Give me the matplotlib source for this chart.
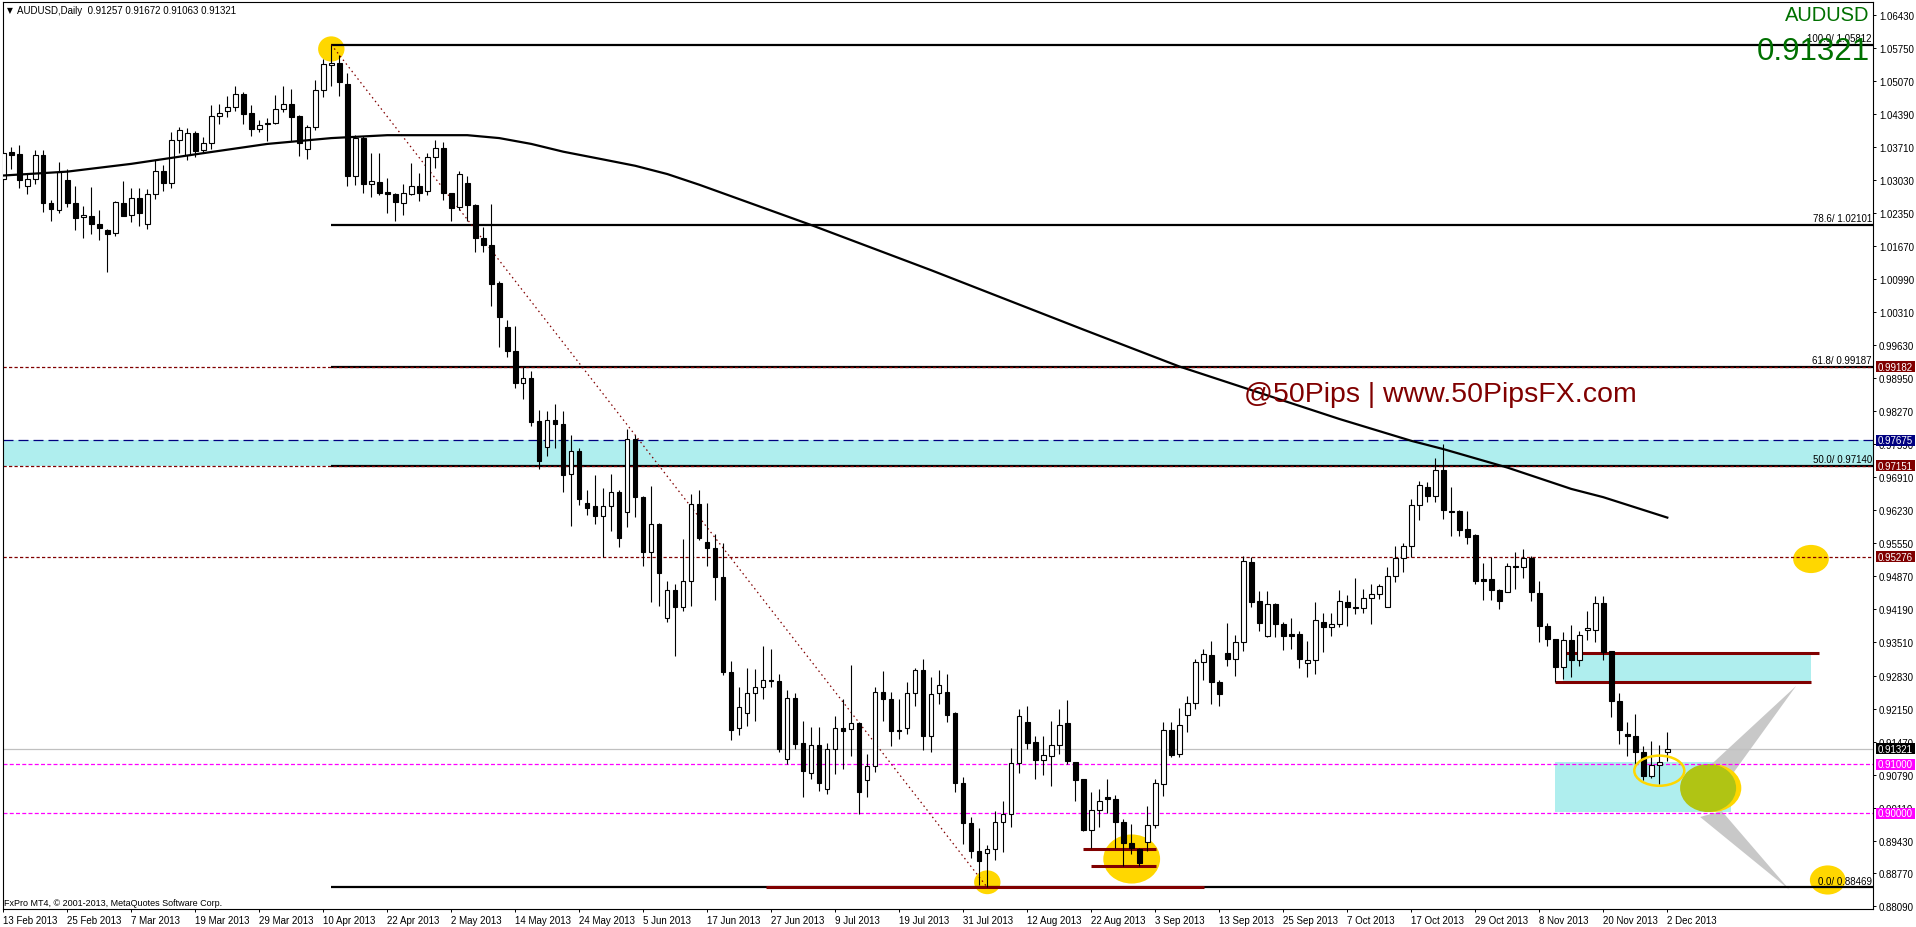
import matplotlib
matplotlib.use("Agg")
import matplotlib.pyplot as plt
from matplotlib.patches import Ellipse, Rectangle, Polygon
from matplotlib.transforms import blended_transform_factory

plt.rcParams['font.family'] = ['Liberation Sans', 'DejaVu Sans']

# ---- data (AUDUSD daily, bar 0 = 13 Feb 2013) ----
header = "AUDUSD,Daily  0.91257 0.91672 0.91063 0.91321"
last_price = 0.91321

date_labels = ["13 Feb 2013", "25 Feb 2013", "7 Mar 2013", "19 Mar 2013", "29 Mar 2013",
               "10 Apr 2013", "22 Apr 2013", "2 May 2013", "14 May 2013", "24 May 2013",
               "5 Jun 2013", "17 Jun 2013", "27 Jun 2013", "9 Jul 2013", "19 Jul 2013",
               "31 Jul 2013", "12 Aug 2013", "22 Aug 2013", "3 Sep 2013", "13 Sep 2013",
               "25 Sep 2013", "7 Oct 2013", "17 Oct 2013", "29 Oct 2013", "8 Nov 2013",
               "20 Nov 2013", "2 Dec 2013"]

opens = [
    1.0304, 1.0360, 1.0356, 1.0290, 1.0304, 1.0354, 1.0256, 1.0242, 1.0302, 1.0256,
    1.0226, 1.0228, 1.0212, 1.0200, 1.0194, 1.0256, 1.0230, 1.0265, 1.0212, 1.0273,
    1.0321, 1.0296, 1.0385, 1.0354, 1.0399, 1.0364, 1.0378, 1.0434, 1.0444, 1.0454,
    1.0479, 1.0440, 1.0407, 1.0417, 1.0421, 1.0448, 1.0459, 1.0435, 1.0366, 1.0411,
    1.0487, 1.0540, 1.0544, 1.0500, 1.0310, 1.0389, 1.0295, 1.0298, 1.0278, 1.0274,
    1.0256, 1.0274, 1.0291, 1.0280, 1.0350, 1.0369, 1.0275, 1.0247, 1.0296, 1.0251,
    1.0183, 1.0169, 1.0091, 1.0000, 0.9950, 0.9886, 0.9895, 0.9806, 0.9753, 0.9808,
    0.9800, 0.9697, 0.9746, 0.9639, 0.9631, 0.9612, 0.9631, 0.9660, 0.9619, 0.9769,
    0.9650, 0.9538, 0.9594, 0.9401, 0.9460, 0.9423, 0.9478, 0.9635, 0.9558, 0.9545,
    0.9485, 0.9290, 0.9175, 0.9206, 0.9246, 0.9259, 0.9274, 0.9272, 0.9111, 0.9237,
    0.9144, 0.9083, 0.9141, 0.9049, 0.9132, 0.9174, 0.9172, 0.9185, 0.9067, 0.9096,
    0.9250, 0.9234, 0.9171, 0.9174, 0.9246, 0.9294, 0.9159, 0.9247, 0.9250, 0.9205,
    0.9061, 0.8980, 0.8922, 0.8918, 0.8927, 0.8982, 0.8997, 0.9102, 0.9187, 0.9147,
    0.9110, 0.9118, 0.9139, 0.9185, 0.9106, 0.9070, 0.8966, 0.9006, 0.9033, 0.9028,
    0.8981, 0.8938, 0.8926, 0.8941, 0.8975, 0.9059, 0.9171, 0.9121, 0.9201, 0.9226,
    0.9310, 0.9325, 0.9269, 0.9329, 0.9316, 0.9353, 0.9516, 0.9436, 0.9365, 0.9430,
    0.9389, 0.9368, 0.9368, 0.9308, 0.9314, 0.9394, 0.9382, 0.9390, 0.9434, 0.9425,
    0.9421, 0.9442, 0.9450, 0.9423, 0.9487, 0.9524, 0.9549, 0.9633, 0.9670, 0.9652,
    0.9706, 0.9621, 0.9621, 0.9585, 0.9572, 0.9481, 0.9481, 0.9458, 0.9454, 0.9508,
    0.9506, 0.9524, 0.9453, 0.9384, 0.9358, 0.9300, 0.9357, 0.9314, 0.9377, 0.9377,
    0.9432, 0.9333, 0.9231, 0.9163, 0.9159, 0.9125, 0.9077, 0.9098, 0.91257]
highs = [
    1.0360, 1.0370, 1.0375, 1.0315, 1.0365, 1.0365, 1.0262, 1.0339, 1.0325, 1.0290,
    1.0249, 1.0288, 1.0240, 1.0202, 1.0260, 1.0300, 1.0287, 1.0286, 1.0284, 1.0344,
    1.0334, 1.0402, 1.0411, 1.0410, 1.0403, 1.0392, 1.0457, 1.0460, 1.0476, 1.0496,
    1.0483, 1.0458, 1.0427, 1.0430, 1.0478, 1.0496, 1.0490, 1.0437, 1.0416, 1.0508,
    1.0552, 1.05812, 1.0559, 1.0523, 1.0396, 1.0393, 1.0358, 1.0358, 1.0307, 1.0276,
    1.0295, 1.0338, 1.0317, 1.0358, 1.0385, 1.0380, 1.0277, 1.0321, 1.0312, 1.0253,
    1.0207, 1.0253, 1.0094, 1.0015, 1.0002, 0.9917, 0.9910, 0.9829, 0.9827, 0.9842,
    0.9827, 0.9777, 0.9752, 0.9665, 0.9696, 0.9669, 0.9698, 0.9665, 0.9790, 0.9777,
    0.9653, 0.9672, 0.9596, 0.9478, 0.9471, 0.9564, 0.9657, 0.9665, 0.9639, 0.9574,
    0.9555, 0.9312, 0.9259, 0.9298, 0.9297, 0.9343, 0.9338, 0.9286, 0.9253, 0.9248,
    0.9190, 0.9178, 0.9178, 0.9144, 0.9200, 0.9235, 0.9305, 0.9188, 0.9121, 0.9259,
    0.9292, 0.9250, 0.9235, 0.9269, 0.9298, 0.9317, 0.9279, 0.9294, 0.9286, 0.9207,
    0.9075, 0.8991, 0.8969, 0.8934, 0.9004, 0.9025, 0.9133, 0.9214, 0.9220, 0.9158,
    0.9158, 0.9189, 0.9214, 0.9233, 0.9106, 0.9071, 0.9043, 0.9049, 0.9070, 0.9037,
    0.8988, 0.8977, 0.8929, 0.9014, 0.9071, 0.9188, 0.9187, 0.9216, 0.9240, 0.9318,
    0.9338, 0.9354, 0.9273, 0.9391, 0.9366, 0.9528, 0.9526, 0.9456, 0.9456, 0.9432,
    0.9394, 0.9401, 0.9375, 0.9355, 0.9434, 0.9412, 0.9412, 0.9459, 0.9449, 0.9483,
    0.9462, 0.9471, 0.9471, 0.9506, 0.9549, 0.9556, 0.9646, 0.9684, 0.9681, 0.9730,
    0.9759, 0.9670, 0.9624, 0.9622, 0.9574, 0.9515, 0.9526, 0.9461, 0.9514, 0.9537,
    0.9543, 0.9528, 0.9478, 0.9391, 0.9358, 0.9372, 0.9387, 0.9374, 0.9416, 0.9447,
    0.9447, 0.9333, 0.9248, 0.9187, 0.9204, 0.9137, 0.9148, 0.9139, 0.91672]
lows = [
    1.0302, 1.0325, 1.0286, 1.0273, 1.0295, 1.0236, 1.0219, 1.0234, 1.0248, 1.0199,
    1.0183, 1.0192, 1.0180, 1.0114, 1.0187, 1.0228, 1.0217, 1.0209, 1.0202, 1.0264,
    1.0281, 1.0286, 1.0358, 1.0343, 1.0350, 1.0360, 1.0367, 1.0418, 1.0432, 1.0444,
    1.0419, 1.0393, 1.0401, 1.0384, 1.0417, 1.0443, 1.0382, 1.0353, 1.0346, 1.0405,
    1.0473, 1.0497, 1.0476, 1.0290, 1.0293, 1.0276, 1.0267, 1.0272, 1.0234, 1.0219,
    1.0231, 1.0271, 1.0260, 1.0271, 1.0327, 1.0262, 1.0219, 1.0242, 1.0219, 1.0154,
    1.0154, 1.0044, 0.9960, 0.9939, 0.9875, 0.9852, 0.9797, 0.9709, 0.9735, 0.9751,
    0.9660, 0.9591, 0.9633, 0.9613, 0.9595, 0.9526, 0.9581, 0.9547, 0.9589, 0.9609,
    0.9509, 0.9434, 0.9427, 0.9393, 0.9324, 0.9415, 0.9427, 0.9562, 0.9508, 0.9439,
    0.9284, 0.9150, 0.9160, 0.9180, 0.9190, 0.9235, 0.9260, 0.9125, 0.9100, 0.9132,
    0.9034, 0.9071, 0.9046, 0.9039, 0.9080, 0.9091, 0.9118, 0.8998, 0.9034, 0.9085,
    0.9190, 0.9137, 0.9152, 0.9163, 0.9221, 0.9130, 0.9126, 0.9224, 0.9187, 0.9043,
    0.8936, 0.8907, 0.8851, 0.88469, 0.8904, 0.8919, 0.8971, 0.9082, 0.9132, 0.9070,
    0.9078, 0.9056, 0.9121, 0.9101, 0.9025, 0.8964, 0.8929, 0.8971, 0.9001, 0.8929,
    0.8892, 0.8916, 0.8892, 0.8922, 0.8970, 0.9036, 0.9115, 0.9115, 0.9166, 0.9214,
    0.9274, 0.9224, 0.9221, 0.9303, 0.9283, 0.9334, 0.9425, 0.9375, 0.9362, 0.9362,
    0.9336, 0.9337, 0.9298, 0.9279, 0.9286, 0.9332, 0.9364, 0.9382, 0.9385, 0.9410,
    0.9412, 0.9388, 0.9440, 0.9423, 0.9476, 0.9497, 0.9526, 0.9604, 0.9641, 0.9641,
    0.9606, 0.9571, 0.9571, 0.9554, 0.9471, 0.9438, 0.9438, 0.9420, 0.9454, 0.9461,
    0.9483, 0.9437, 0.9351, 0.9343, 0.9269, 0.9276, 0.9279, 0.9303, 0.9357, 0.9351,
    0.9314, 0.9197, 0.9142, 0.9118, 0.9101, 0.9067, 0.9072, 0.9060, 0.91063]
closes = [
    1.0358, 1.0355, 1.0302, 1.0304, 1.0354, 1.0255, 1.0244, 1.0319, 1.0255, 1.0225,
    1.0231, 1.0213, 1.0203, 1.0192, 1.0257, 1.0229, 1.0265, 1.0234, 1.0273, 1.0321,
    1.0296, 1.0385, 1.0405, 1.0399, 1.0363, 1.0378, 1.0434, 1.0441, 1.0452, 1.0479,
    1.0439, 1.0407, 1.0415, 1.0421, 1.0448, 1.0459, 1.0433, 1.0378, 1.0411, 1.0487,
    1.0541, 1.0544, 1.0504, 1.0310, 1.0389, 1.0294, 1.0300, 1.0275, 1.0273, 1.0257,
    1.0275, 1.0290, 1.0275, 1.0350, 1.0369, 1.0275, 1.0246, 1.0315, 1.0251, 1.0183,
    1.0168, 1.0089, 1.0020, 0.9950, 0.9886, 0.9895, 0.9805, 0.9725, 0.9808, 0.9800,
    0.9696, 0.9746, 0.9646, 0.9628, 0.9612, 0.9631, 0.9660, 0.9567, 0.9769, 0.9650,
    0.9538, 0.9594, 0.9493, 0.9460, 0.9423, 0.9478, 0.9635, 0.9567, 0.9545, 0.9485,
    0.9291, 0.9170, 0.9218, 0.9246, 0.9259, 0.9274, 0.9272, 0.9132, 0.9236, 0.9143,
    0.9087, 0.9141, 0.9061, 0.9132, 0.9174, 0.9168, 0.9185, 0.9044, 0.9096, 0.9250,
    0.9234, 0.9168, 0.9168, 0.9248, 0.9294, 0.9159, 0.9244, 0.9263, 0.9202, 0.9061,
    0.8979, 0.8922, 0.8902, 0.8927, 0.8981, 0.8997, 0.9102, 0.9200, 0.9145, 0.9110,
    0.9119, 0.9139, 0.9182, 0.9108, 0.9069, 0.8965, 0.9006, 0.9025, 0.9028, 0.8982,
    0.8938, 0.8929, 0.8898, 0.8975, 0.9061, 0.9171, 0.9120, 0.9182, 0.9226, 0.9310,
    0.9327, 0.9269, 0.9244, 0.9316, 0.9353, 0.9518, 0.9435, 0.9392, 0.9430, 0.9388,
    0.9365, 0.9365, 0.9316, 0.9314, 0.9397, 0.9382, 0.9390, 0.9436, 0.9425, 0.9421,
    0.9442, 0.9450, 0.9467, 0.9487, 0.9524, 0.9549, 0.9633, 0.9676, 0.9652, 0.9706,
    0.9624, 0.9619, 0.9583, 0.9569, 0.9478, 0.9478, 0.9458, 0.9437, 0.9508, 0.9506,
    0.9524, 0.9454, 0.9384, 0.9358, 0.9300, 0.9357, 0.9314, 0.9367, 0.9380, 0.9432,
    0.9331, 0.9231, 0.9170, 0.9159, 0.9125, 0.9077, 0.9098, 0.9106, 0.91321]

# moving average, sampled along its path (bar, price)
ma_bars = [0, 8, 16, 25, 33, 41, 48, 58, 62, 66, 70, 75, 79, 83, 87, 101, 116, 135, 147,
           167, 176, 180, 188, 196, 200, 208]
ma_vals = [1.0312, 1.0320, 1.0336, 1.0358, 1.0377, 1.0389, 1.0395, 1.0395, 1.0389, 1.0377,
           1.0361, 1.0345, 1.0332, 1.0315, 1.0293, 1.0210, 1.0117, 0.9995, 0.9919,
           0.9811, 0.9766, 0.9749, 0.9711, 0.9667, 0.9650, 0.9608]

# Fibonacci retracement: 11 Apr high -> 5 Aug low
fib_from, fib_to = 41, 123
fib_names = ["100.0", "78.6", "61.8", "50.0", "0.0"]
fib_prices = [1.05812, 1.02101, 0.99187, 0.97140, 0.88469]

ytick_vals = [1.06430, 1.05750, 1.05070, 1.04390, 1.03710, 1.03030, 1.02350, 1.01670,
              1.00990, 1.00310, 0.99630, 0.98950, 0.98270, 0.97590, 0.96910, 0.96230,
              0.95550, 0.94870, 0.94190, 0.93510, 0.92830, 0.92150, 0.91470, 0.90790,
              0.90110, 0.89430, 0.88770, 0.88090]

# price tags on the right scale
tag_prices = [0.99182, 0.97675, 0.97151, 0.95276, 0.91321, 0.91000, 0.90000]
tag_colors = ["#800000", "#000080", "#800000", "#800000", "#000000", "#FF00FF", "#FF00FF"]

# zones (bar from, bar to, price low, price high)
zone_top = (-1, 240, 0.97151, 0.97675)
zone_a = (195.0, 225.9, 0.92691, 0.93294)
zone_b = (194.0, 215.9, 0.90016, 0.91045)

# dark red support/resistance segments (bar from, bar to, price)
segments = [(95.3, 150.1, 0.88469), (135.0, 144.1, 0.8926), (136.0, 144.1, 0.8892),
            (195.0, 227.0, 0.9329), (194.0, 226.0, 0.92691)]

# yellow markers (bar, price, width in bars, height in price)
spots = [(41.0, 1.05724, 3.3, 0.0052), (123.0, 0.88575, 3.3, 0.0049),
         (141.05, 0.89054, 7.1, 0.0101), (225.96, 0.95228, 4.46, 0.0058),
         (228.05, 0.88622, 4.46, 0.0060)]
green_spot = (213.1, 0.90515, 7.0, 0.0099)
ring = (207.0, 0.90871, 6.25, 0.0062)

wedge_up = [(224.1, 0.92615), (211.8, 0.90742), (214.8, 0.90495)]
wedge_dn = [(223.3, 0.88416), (212.1, 0.89919), (214.8, 0.90042)]

# ---- figure ----
W, H = 1916, 928
fig = plt.figure(figsize=(W / 100, H / 100), dpi=100)
fig.patch.set_facecolor("white")
ax = fig.add_axes([2.7 / W, 18 / H, 1870.6 / W, 907.3 / H])
ax.set_xlim(-0.075, 233.75)
ax.set_ylim(0.88025, 1.06697)

n = len(closes)
xs = list(range(n))
trans_right = blended_transform_factory(ax.transAxes, ax.transData)

# zones
for x0, x1, lo, hi in [zone_top, zone_a, zone_b]:
    ax.add_patch(Rectangle((x0, lo), x1 - x0, hi - lo, facecolor="#AFEEEE",
                           edgecolor="none", zorder=0.5))

for bx, py, w, h in spots:
    ax.add_patch(Ellipse((bx, py), w, h, facecolor="#FFD700", edgecolor="none", zorder=0.7))
gx, gy, gw, gh = green_spot
ax.add_patch(Ellipse((gx + 0.5, gy), gw + 0.3, gh, facecolor="#FFD700", edgecolor="none", zorder=0.7))
ax.add_patch(Ellipse((gx, gy), gw, gh, facecolor="#B0C414", edgecolor="none", zorder=0.8))
for wg in [wedge_up, wedge_dn]:
    ax.add_patch(Polygon(wg, closed=True, facecolor="#C8C8C8", edgecolor="none", zorder=0.6))

# horizontal levels
ax.axhline(0.91321, color="#C0C0C0", lw=0.9, zorder=1)
ax.axhline(0.97675, color="#000080", lw=0.9, dashes=(8, 4), zorder=1.2)
for p in [0.91000, 0.90000]:
    ax.axhline(p, color="#FF00FF", lw=0.9, dashes=(3.2, 1.8), zorder=1.2)

# fibo lines
for name, p in zip(fib_names, fib_prices):
    ax.plot([fib_from, 240], [p, p], color="black", lw=1.6, zorder=2,
            solid_capstyle="butt")
    ax.text(0.9992, p + 0.00035, f"{name}/ {p:.5f}", transform=trans_right,
            ha="right", va="bottom", fontsize=7, zorder=6)
ax.plot([fib_from, fib_to], [fib_prices[0], fib_prices[-1]], color="#800000", lw=0.9,
        dashes=(1.2, 2.6), zorder=2.2)

for x0, x1, p in segments:
    ax.plot([x0, x1], [p, p], color="#800000", lw=2.2, solid_capstyle="butt", zorder=2.3)

for p in [0.99182, 0.97151, 0.95276]:
    ax.axhline(p, color="#800000", lw=0.9, dashes=(2.6, 1.8), zorder=2.5)

# candles
for i in xs:
    o, hgh, low, c = opens[i], highs[i], lows[i], closes[i]
    ax.vlines(i, low, hgh, color="black", lw=0.8, zorder=3)
    bot = min(o, c)
    ht = max(abs(c - o), 0.00005)
    ax.bar(i, ht, bottom=bot, width=0.55, color="white" if c >= o else "black",
           edgecolor="black", linewidth=0.8, zorder=3.2)

ax.plot(ma_bars, ma_vals, color="black", lw=1.6, zorder=4)

ax.add_patch(Ellipse(ring[:2], ring[2], ring[3], facecolor="none", edgecolor="#FFD700",
                     lw=1.8, zorder=4.5))

# texts
ax.text(0.0039, 0.9909, "\u25BC", transform=ax.transAxes, ha="center", va="center",
        fontsize=5.5, family="DejaVu Sans")
ax.text(0.0076, 0.9909, header, transform=ax.transAxes, ha="left", va="center", fontsize=7)
ax.text(0.9982, 0.9864, "AUDUSD", transform=ax.transAxes, ha="right", va="center",
        fontsize=14.5, color="#007000", zorder=7)
ax.text(0.9982, 0.9453, f"{last_price:.5f}", transform=ax.transAxes, ha="right",
        va="center", fontsize=22.5, color="#007000", zorder=7)
ax.text(179.6, 0.98624, "@50Pips | www.50PipsFX.com", ha="center", va="center",
        fontsize=20.5, color="#800000", zorder=7)
ax.text(0.0008, 0.0077, "FxPro MT4, \u00a9 2001-2013, MetaQuotes Software Corp.",
        transform=ax.transAxes, ha="left", va="center", fontsize=6.5)

# axes styling
for s in ax.spines.values():
    s.set_linewidth(0.8)
ax.yaxis.tick_right()
ax.set_yticks(ytick_vals)
ax.set_yticklabels([f"{v:.5f}" for v in ytick_vals])
ax.tick_params(axis="y", direction="out", length=2.5, width=0.7, pad=1.5, labelsize=7)
ax.set_xticks(list(range(0, n, 8)))
ax.set_xticklabels(date_labels, ha="left")
ax.tick_params(axis="x", direction="out", length=2.5, width=0.7, pad=1.5, labelsize=7)

for p, col in zip(tag_prices, tag_colors):
    ax.add_patch(Rectangle((1.0013, p - 0.00113), 0.021, 0.00226, transform=trans_right,
                           facecolor=col, edgecolor="none", clip_on=False, zorder=8))
    ax.text(1.0118, p, f"{p:.5f}", transform=trans_right, ha="center", va="center",
            fontsize=7, color="white", clip_on=False, zorder=9)

fig.savefig("out.png", dpi=100, facecolor="white")
